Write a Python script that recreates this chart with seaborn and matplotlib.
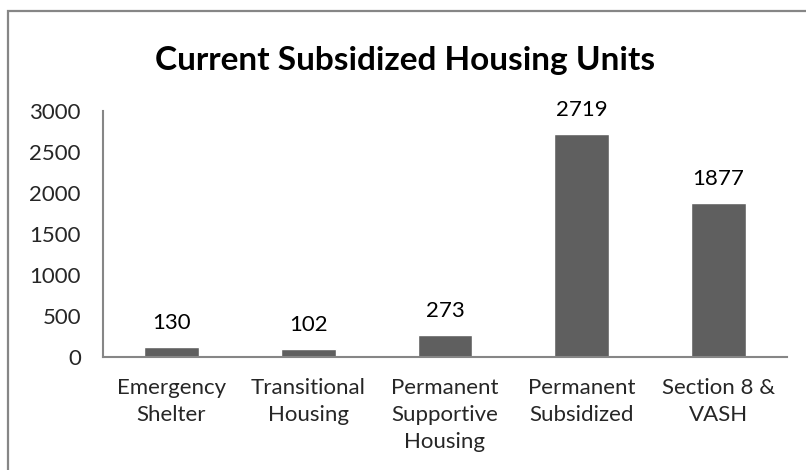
import numpy as np
import seaborn as sns
import matplotlib.pyplot as plt
import pandas as pd
from matplotlib.patches import Rectangle

# chart data
categories = ['Emergency\nShelter', 'Transitional\nHousing', 'Permanent\nSupportive\nHousing',
              'Permanent\nSubsidized', 'Section 8 &\nVASH']
units = [130, 102, 273, 2719, 1877]
yticks = [0, 500, 1000, 1500, 2000, 2500, 3000]

sns.set_style('white')
plt.rcParams['font.family'] = ['Lato', 'DejaVu Sans']

df = pd.DataFrame({'category': categories, 'units': units})

fig = plt.figure(figsize=(8.06, 4.70), dpi=100)
ax = fig.add_axes([0.128, 0.240, 0.848, 0.524])

sns.barplot(data=df, x='category', y='units', color='#5f5f5f', width=0.4,
            saturation=1, ax=ax)

for i, v in enumerate(units):
    ax.annotate(str(v), (i, v), xytext=(0, 10), textcoords='offset points',
                ha='center', va='bottom', fontsize=16, color='#000000')

ax.set_ylim(0, 3000)
ax.set_xlim(-0.5, len(categories) - 0.5)
ax.set_yticks(yticks)
ax.set_yticklabels([str(t) for t in yticks], fontsize=16)
ax.set_xticks(np.arange(-0.5, len(categories), 1.0))
ax.set_xticklabels([''] * (len(categories) + 1))
ax.set_xticks(np.arange(len(categories)), minor=True)
ax.set_xticklabels(categories, minor=True, fontsize=16, linespacing=1.45)
ax.tick_params(axis='x', which='major', length=6, width=1.5, color='#868686', direction='out')
ax.tick_params(axis='x', which='minor', length=0, pad=15)
ax.tick_params(axis='y', length=6, width=1.5, color='#868686', direction='out', pad=10)
ax.set_xlabel('')
ax.set_ylabel('')

for s in ['top', 'right']:
    ax.spines[s].set_visible(False)
for s in ['left', 'bottom']:
    ax.spines[s].set_color('#868686')
    ax.spines[s].set_linewidth(1.5)

fig.text(0.503, 0.872, 'Current Subsidized Housing Units', ha='center', va='center',
         fontsize=24, fontweight='bold', color='#000000')

# chart frame, partially clipped by the image edge
fig.patches.append(Rectangle((8 / 806, -0.1), 1.2, 1 - 11 / 470 + 0.1,
                             transform=fig.transFigure, fill=False,
                             edgecolor='#868686', linewidth=1.6))

fig.savefig('out.png', dpi=100)
